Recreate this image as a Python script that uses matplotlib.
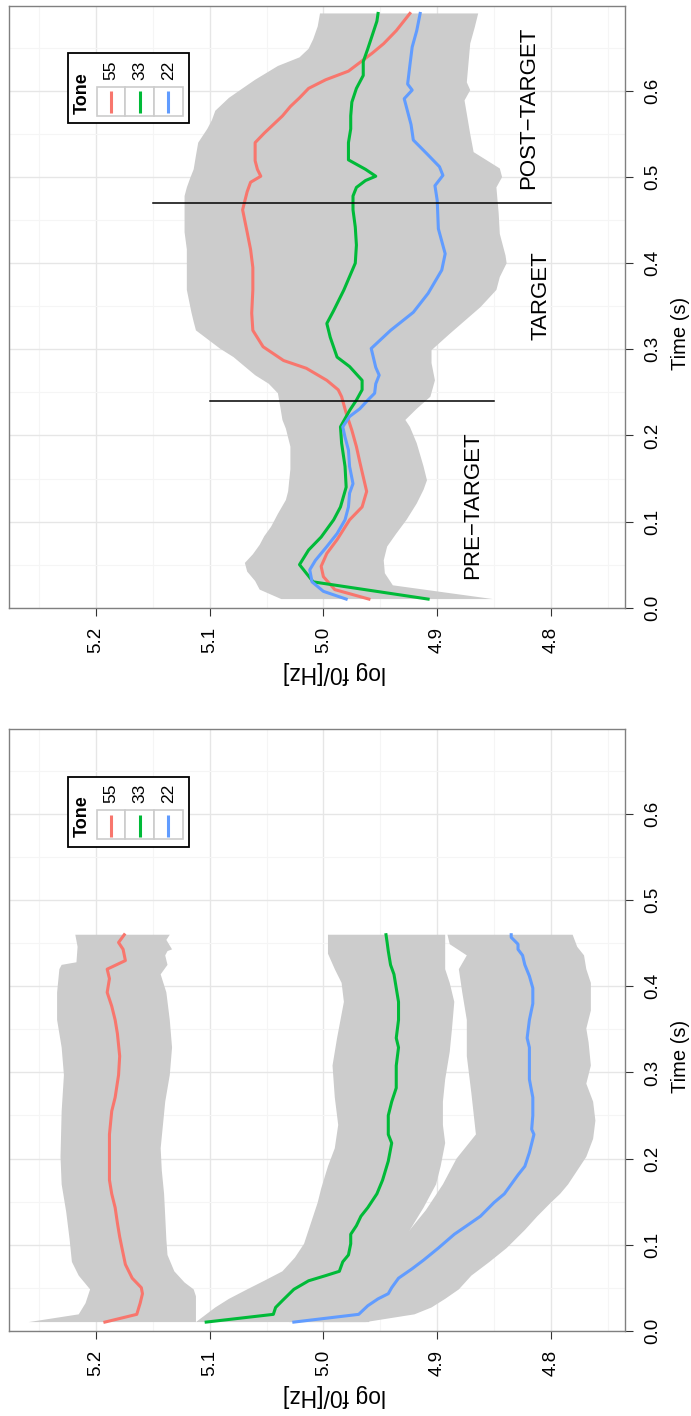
import matplotlib.pyplot as plt
from matplotlib.patches import Rectangle
from matplotlib.lines import Line2D

plt.rcParams["font.family"] = ["Liberation Sans", "DejaVu Sans"]

W, H = 691, 1416

tones = ["55", "33", "22"]
tone_colors = ["#F8766D", "#00BA38", "#619CFF"]

# ---- panel 1: mean log f0 per tone, each with its own band ----
p1_t_55 = [0.010, 0.019, 0.032, 0.043, 0.050, 0.061, 0.077, 0.096, 0.109, 0.125,
           0.143, 0.159, 0.175, 0.202, 0.228, 0.255, 0.271, 0.297, 0.319, 0.345,
           0.361, 0.377, 0.393, 0.409, 0.420, 0.430, 0.443, 0.451, 0.460]
p1_f_55 = [5.192, 5.164, 5.161, 5.159, 5.160, 5.168, 5.174, 5.177, 5.179, 5.181,
           5.183, 5.186, 5.188, 5.188, 5.188, 5.186, 5.183, 5.180, 5.179, 5.181,
           5.183, 5.186, 5.190, 5.188, 5.190, 5.174, 5.176, 5.180, 5.175]
p1_hi_t_55 = [0.010, 0.019, 0.032, 0.048, 0.064, 0.080, 0.106, 0.138, 0.170, 0.202,
              0.255, 0.297, 0.329, 0.361, 0.393, 0.420, 0.425, 0.428, 0.446, 0.460]
p1_hi_55 = [5.259, 5.215, 5.209, 5.205, 5.215, 5.221, 5.223, 5.226, 5.230, 5.231,
            5.230, 5.228, 5.230, 5.234, 5.234, 5.232, 5.230, 5.217, 5.216, 5.218]
p1_lo_t_55 = [0.010, 0.040, 0.048, 0.056, 0.069, 0.088, 0.106, 0.133, 0.159, 0.186,
              0.212, 0.239, 0.266, 0.297, 0.329, 0.361, 0.393, 0.414, 0.425, 0.436,
              0.441, 0.443, 0.454, 0.460]
p1_lo_55 = [5.112, 5.112, 5.114, 5.122, 5.131, 5.137, 5.138, 5.139, 5.140, 5.142,
            5.143, 5.141, 5.139, 5.135, 5.133, 5.135, 5.138, 5.143, 5.137, 5.139,
            5.137, 5.133, 5.138, 5.135]

p1_t_33 = [0.010, 0.019, 0.027, 0.035, 0.048, 0.058, 0.064, 0.069, 0.080, 0.088,
           0.101, 0.112, 0.122, 0.133, 0.143, 0.159, 0.175, 0.197, 0.218, 0.228,
           0.239, 0.250, 0.266, 0.282, 0.308, 0.329, 0.340, 0.361, 0.382, 0.398,
           0.414, 0.425, 0.441, 0.451, 0.460]
p1_f_33 = [5.103, 5.044, 5.042, 5.036, 5.026, 5.013, 4.998, 4.986, 4.983, 4.978,
           4.976, 4.976, 4.971, 4.967, 4.961, 4.953, 4.948, 4.943, 4.940, 4.943,
           4.943, 4.943, 4.940, 4.936, 4.936, 4.934, 4.936, 4.934, 4.934, 4.936,
           4.938, 4.941, 4.943, 4.944, 4.945]
p1_hi_t_33 = [0.010, 0.027, 0.037, 0.048, 0.058, 0.069, 0.085, 0.101, 0.117, 0.133,
              0.149, 0.165, 0.191, 0.212, 0.239, 0.271, 0.308, 0.340, 0.382, 0.404,
              0.420, 0.438, 0.460]
p1_hi_33 = [5.112, 5.095, 5.083, 5.067, 5.052, 5.036, 5.025, 5.017, 5.013, 5.009,
            5.005, 5.002, 4.996, 4.990, 4.987, 4.990, 4.992, 4.988, 4.982, 4.984,
            4.990, 4.996, 4.996]
p1_lo_t_33 = [0.010, 0.050, 0.080, 0.117, 0.143, 0.170, 0.191, 0.218, 0.239, 0.266,
              0.292, 0.324, 0.351, 0.382, 0.404, 0.420, 0.446, 0.460]
p1_lo_33 = [4.960, 4.945, 4.935, 4.924, 4.912, 4.901, 4.897, 4.893, 4.895, 4.895,
            4.893, 4.889, 4.887, 4.885, 4.889, 4.893, 4.893, 4.893]

p1_t_22 = [0.010, 0.019, 0.029, 0.037, 0.043, 0.050, 0.061, 0.072, 0.082, 0.096,
           0.112, 0.122, 0.133, 0.149, 0.159, 0.170, 0.181, 0.191, 0.207, 0.228,
           0.234, 0.250, 0.271, 0.292, 0.313, 0.329, 0.340, 0.361, 0.380, 0.398,
           0.412, 0.425, 0.436, 0.443, 0.449, 0.457, 0.460]
p1_f_22 = [5.026, 4.969, 4.961, 4.952, 4.943, 4.940, 4.934, 4.922, 4.912, 4.899,
           4.885, 4.874, 4.862, 4.850, 4.841, 4.835, 4.829, 4.823, 4.819, 4.815,
           4.817, 4.816, 4.816, 4.819, 4.819, 4.819, 4.821, 4.819, 4.816, 4.816,
           4.819, 4.823, 4.825, 4.829, 4.829, 4.835, 4.835]
p1_hi_t_22 = [0.010, 0.050, 0.080, 0.114, 0.140, 0.170, 0.200, 0.228, 0.276, 0.319,
              0.361, 0.393, 0.420, 0.436, 0.449, 0.460]
p1_hi_22 = [5.030, 4.990, 4.955, 4.926, 4.910, 4.895, 4.883, 4.866, 4.870, 4.874,
            4.874, 4.878, 4.881, 4.874, 4.889, 4.891]
p1_lo_t_22 = [0.010, 0.019, 0.027, 0.037, 0.048, 0.064, 0.080, 0.096, 0.117, 0.133,
              0.149, 0.159, 0.170, 0.186, 0.202, 0.223, 0.244, 0.266, 0.287, 0.308,
              0.335, 0.351, 0.372, 0.404, 0.420, 0.436, 0.446, 0.460]
p1_lo_22 = [4.963, 4.920, 4.905, 4.893, 4.881, 4.870, 4.854, 4.839, 4.823, 4.812,
            4.800, 4.792, 4.785, 4.777, 4.769, 4.763, 4.761, 4.763, 4.769, 4.765,
            4.767, 4.769, 4.765, 4.765, 4.769, 4.771, 4.777, 4.781]

# ---- panel 2: tones in context, one shared band ----
p2_t_55 = [0.010, 0.021, 0.036, 0.048, 0.063, 0.079, 0.102, 0.117, 0.135, 0.152,
           0.169, 0.187, 0.206, 0.226, 0.245, 0.253, 0.264, 0.278, 0.287, 0.303,
           0.322, 0.342, 0.369, 0.395, 0.416, 0.436, 0.462, 0.483, 0.494, 0.501,
           0.509, 0.519, 0.530, 0.540, 0.551, 0.561, 0.571, 0.582, 0.592, 0.603,
           0.613, 0.623, 0.634, 0.644, 0.655, 0.670, 0.690]
p2_f_55 = [4.960, 4.990, 5.000, 5.002, 4.997, 4.988, 4.977, 4.966, 4.962, 4.965,
           4.968, 4.971, 4.975, 4.980, 4.984, 4.987, 4.997, 5.015, 5.035, 5.053,
           5.062, 5.063, 5.062, 5.062, 5.064, 5.067, 5.071, 5.067, 5.064, 5.055,
           5.058, 5.060, 5.060, 5.060, 5.052, 5.044, 5.036, 5.029, 5.021, 5.013,
           4.998, 4.978, 4.967, 4.957, 4.947, 4.936, 4.924]

p2_t_33 = [0.010, 0.030, 0.050, 0.067, 0.082, 0.102, 0.117, 0.140, 0.164, 0.191,
           0.210, 0.229, 0.241, 0.253, 0.264, 0.280, 0.291, 0.314, 0.330, 0.345,
           0.369, 0.400, 0.421, 0.442, 0.462, 0.478, 0.488, 0.496, 0.501, 0.509,
           0.520, 0.530, 0.540, 0.556, 0.571, 0.587, 0.603, 0.618, 0.634, 0.649,
           0.665, 0.681, 0.690]
p2_f_33 = [4.908, 5.009, 5.021, 5.013, 5.002, 4.991, 4.985, 4.980, 4.981, 4.984,
           4.985, 4.977, 4.971, 4.966, 4.966, 4.977, 4.988, 4.994, 4.997, 4.991,
           4.982, 4.972, 4.971, 4.972, 4.974, 4.974, 4.971, 4.963, 4.954, 4.963,
           4.978, 4.978, 4.978, 4.976, 4.976, 4.975, 4.971, 4.965, 4.965, 4.961,
           4.957, 4.953, 4.952]

p2_t_22 = [0.010, 0.019, 0.030, 0.044, 0.055, 0.071, 0.086, 0.102, 0.117, 0.133,
           0.144, 0.164, 0.183, 0.198, 0.210, 0.222, 0.231, 0.241, 0.249, 0.260,
           0.270, 0.279, 0.301, 0.322, 0.343, 0.365, 0.392, 0.411, 0.440, 0.473,
           0.490, 0.502, 0.512, 0.527, 0.543, 0.561, 0.591, 0.601, 0.608, 0.630,
           0.651, 0.670, 0.690]
p2_f_22 = [4.980, 5.000, 5.010, 5.012, 5.007, 4.997, 4.988, 4.981, 4.978, 4.977,
           4.974, 4.977, 4.978, 4.981, 4.983, 4.977, 4.968, 4.961, 4.955, 4.954,
           4.951, 4.954, 4.958, 4.941, 4.921, 4.908, 4.896, 4.893, 4.899, 4.900,
           4.902, 4.895, 4.898, 4.909, 4.921, 4.923, 4.929, 4.922, 4.926, 4.924,
           4.922, 4.918, 4.915]

p2_hi_t = [0.010, 0.021, 0.031, 0.042, 0.052, 0.062, 0.073, 0.083, 0.094, 0.109,
           0.125, 0.135, 0.161, 0.187, 0.208, 0.218, 0.234, 0.249, 0.260, 0.270,
           0.291, 0.301, 0.312, 0.322, 0.332, 0.343, 0.369, 0.395, 0.416, 0.436,
           0.462, 0.478, 0.488, 0.499, 0.509, 0.525, 0.540, 0.556, 0.566, 0.577,
           0.592, 0.603, 0.613, 0.629, 0.639, 0.649, 0.660, 0.675, 0.690]
p2_hi = [5.037, 5.056, 5.060, 5.067, 5.069, 5.062, 5.056, 5.052, 5.046, 5.040,
         5.033, 5.031, 5.029, 5.029, 5.033, 5.036, 5.038, 5.040, 5.048, 5.060,
         5.079, 5.091, 5.102, 5.112, 5.114, 5.116, 5.120, 5.120, 5.120, 5.122,
         5.122, 5.122, 5.120, 5.117, 5.114, 5.112, 5.110, 5.102, 5.098, 5.095,
         5.083, 5.071, 5.060, 5.040, 5.021, 5.013, 5.009, 5.005, 5.003]
p2_lo_t = [0.010, 0.026, 0.040, 0.055, 0.071, 0.086, 0.102, 0.121, 0.137, 0.148,
           0.164, 0.191, 0.210, 0.218, 0.231, 0.245, 0.264, 0.284, 0.299, 0.318,
           0.349, 0.369, 0.384, 0.400, 0.409, 0.434, 0.458, 0.488, 0.500, 0.510,
           0.529, 0.550, 0.589, 0.601, 0.610, 0.655, 0.674, 0.690]
p2_lo = [4.851, 4.939, 4.946, 4.947, 4.944, 4.936, 4.927, 4.918, 4.912, 4.909,
         4.912, 4.918, 4.924, 4.928, 4.918, 4.906, 4.902, 4.905, 4.905, 4.889,
         4.862, 4.848, 4.845, 4.839, 4.840, 4.845, 4.846, 4.848, 4.843, 4.845,
         4.868, 4.871, 4.876, 4.871, 4.874, 4.871, 4.867, 4.864]

# segment boundaries and labels for panel 2
boundary_t = [0.24, 0.47]
boundary_span = [(5.10, 4.85), (5.15, 4.80)]
segments = ["PRE\u2212TARGET", "TARGET", "POST\u2212TARGET"]
segment_pos = [(4.869, 0.119), (4.809, 0.362), (4.820, 0.581)]

f0_ticks = [5.2, 5.1, 5.0, 4.9, 4.8]
time_ticks = [0.0, 0.1, 0.2, 0.3, 0.4, 0.5, 0.6]

BAND = "#cccccc"


def px(x, y):
    return x / W, 1 - y / H


def band(ax, t_hi, hi, t_lo, lo):
    xs = list(hi) + list(lo)[::-1]
    ys = list(t_hi) + list(t_lo)[::-1]
    ax.fill(xs, ys, color=BAND, lw=0, zorder=1)


def style_axes(ax):
    ax.set_xlim(5.276, 4.735)
    ax.set_ylim(0, 0.699)
    ax.set_xticks(f0_ticks)
    ax.set_xticklabels([f"{v:.1f}" for v in f0_ticks], rotation=90, fontsize=13.5)
    ax.set_xticks([5.25, 5.15, 5.05, 4.95, 4.85, 4.75], minor=True)
    ax.yaxis.tick_right()
    ax.set_yticks(time_ticks)
    ax.set_yticklabels([f"{v:.1f}" for v in time_ticks], rotation=90,
                       va="center", fontsize=13.5)
    ax.set_yticks([0.05, 0.15, 0.25, 0.35, 0.45, 0.55, 0.65], minor=True)
    ax.tick_params(which="major", length=5.8, width=0.8, color="#333333", pad=8)
    ax.tick_params(which="minor", length=0)
    ax.grid(which="major", color="#e6e6e6", lw=1.0)
    ax.grid(which="minor", color="#f5f5f5", lw=0.8)
    ax.set_axisbelow(True)
    for s in ax.spines.values():
        s.set_color("#808080")
        s.set_linewidth(1.0)


def tone_legend(fig, dy):
    x0, x1, y0, y1 = 67.7, 189.0, 53.3 + dy, 123.0 + dy
    fx, fy = px(x0, y1)
    fig.add_artist(Rectangle((fx, fy), (x1 - x0) / W, (y1 - y0) / H,
                             transform=fig.transFigure, fc="white", ec="black", lw=1.3))
    tx, ty = px(82.7, 93 + dy)
    fig.text(tx, ty, "Tone", rotation=90, ha="center", va="center",
             fontsize=13, fontweight="bold")
    cell_w = 28.7
    for i, (name, col) in enumerate(zip(tones, tone_colors)):
        cx0 = 96.7 + i * cell_w
        rx, ry = px(cx0, 116 + dy)
        fig.add_artist(Rectangle((rx, ry), cell_w / W, 29 / H, transform=fig.transFigure,
                                 fc="white", ec="#cccccc", lw=1.2))
        cx = cx0 + cell_w / 2
        lx0, ly0 = px(cx, 113 + dy)
        lx1, ly1 = px(cx, 91 + dy)
        fig.add_artist(Line2D([lx0, lx1], [ly0, ly1], transform=fig.transFigure,
                              color=col, lw=2.2, solid_capstyle="butt"))
        nx, ny = px(cx, 70 + dy)
        fig.text(nx, ny, name, rotation=90, ha="center", va="center", fontsize=12.5)


def axis_titles(fig, dy):
    x, y = px(680, 333 + dy)
    fig.text(x, y, "Time (s)", rotation=90, ha="center", va="center", fontsize=14.5)
    x, y = px(334, 672 + dy)
    fig.text(x, y, "log f0/[Hz]", rotation=180, ha="center", va="center", fontsize=16.5)


fig = plt.figure(figsize=(W / 100, H / 100), dpi=100)

# panel 2 sits at the top of the page, panel 1 below it
ax2 = fig.add_axes([9.3 / W, 1 - 607.7 / H, 615.7 / W, 602.0 / H])
ax1 = fig.add_axes([9.3 / W, 1 - 1330.7 / H, 615.7 / W, 601.7 / H])

# panel 1
band(ax1, p1_hi_t_55, p1_hi_55, p1_lo_t_55, p1_lo_55)
band(ax1, p1_hi_t_33, p1_hi_33, p1_lo_t_33, p1_lo_33)
band(ax1, p1_hi_t_22, p1_hi_22, p1_lo_t_22, p1_lo_22)
for ts, fs, col in zip([p1_t_55, p1_t_33, p1_t_22], [p1_f_55, p1_f_33, p1_f_22], tone_colors):
    ax1.plot(fs, ts, color=col, lw=2.2, zorder=3, solid_joinstyle="round")
style_axes(ax1)

# panel 2
band(ax2, p2_hi_t, p2_hi, p2_lo_t, p2_lo)
for ts, fs, col in zip([p2_t_55, p2_t_33, p2_t_22], [p2_f_55, p2_f_33, p2_f_22], tone_colors):
    ax2.plot(fs, ts, color=col, lw=2.2, zorder=3, solid_joinstyle="round")
for bt, (fa, fb) in zip(boundary_t, boundary_span):
    ax2.plot([fa, fb], [bt, bt], color="black", lw=1.1, zorder=4)
for label, (fx, ft) in zip(segments, segment_pos):
    ax2.text(fx, ft, label, rotation=90, ha="center", va="center", fontsize=16, zorder=5)
style_axes(ax2)

tone_legend(fig, 0)
tone_legend(fig, 723.5)
axis_titles(fig, 0)
axis_titles(fig, 723.0)

fig.savefig("out.png", dpi=100)
